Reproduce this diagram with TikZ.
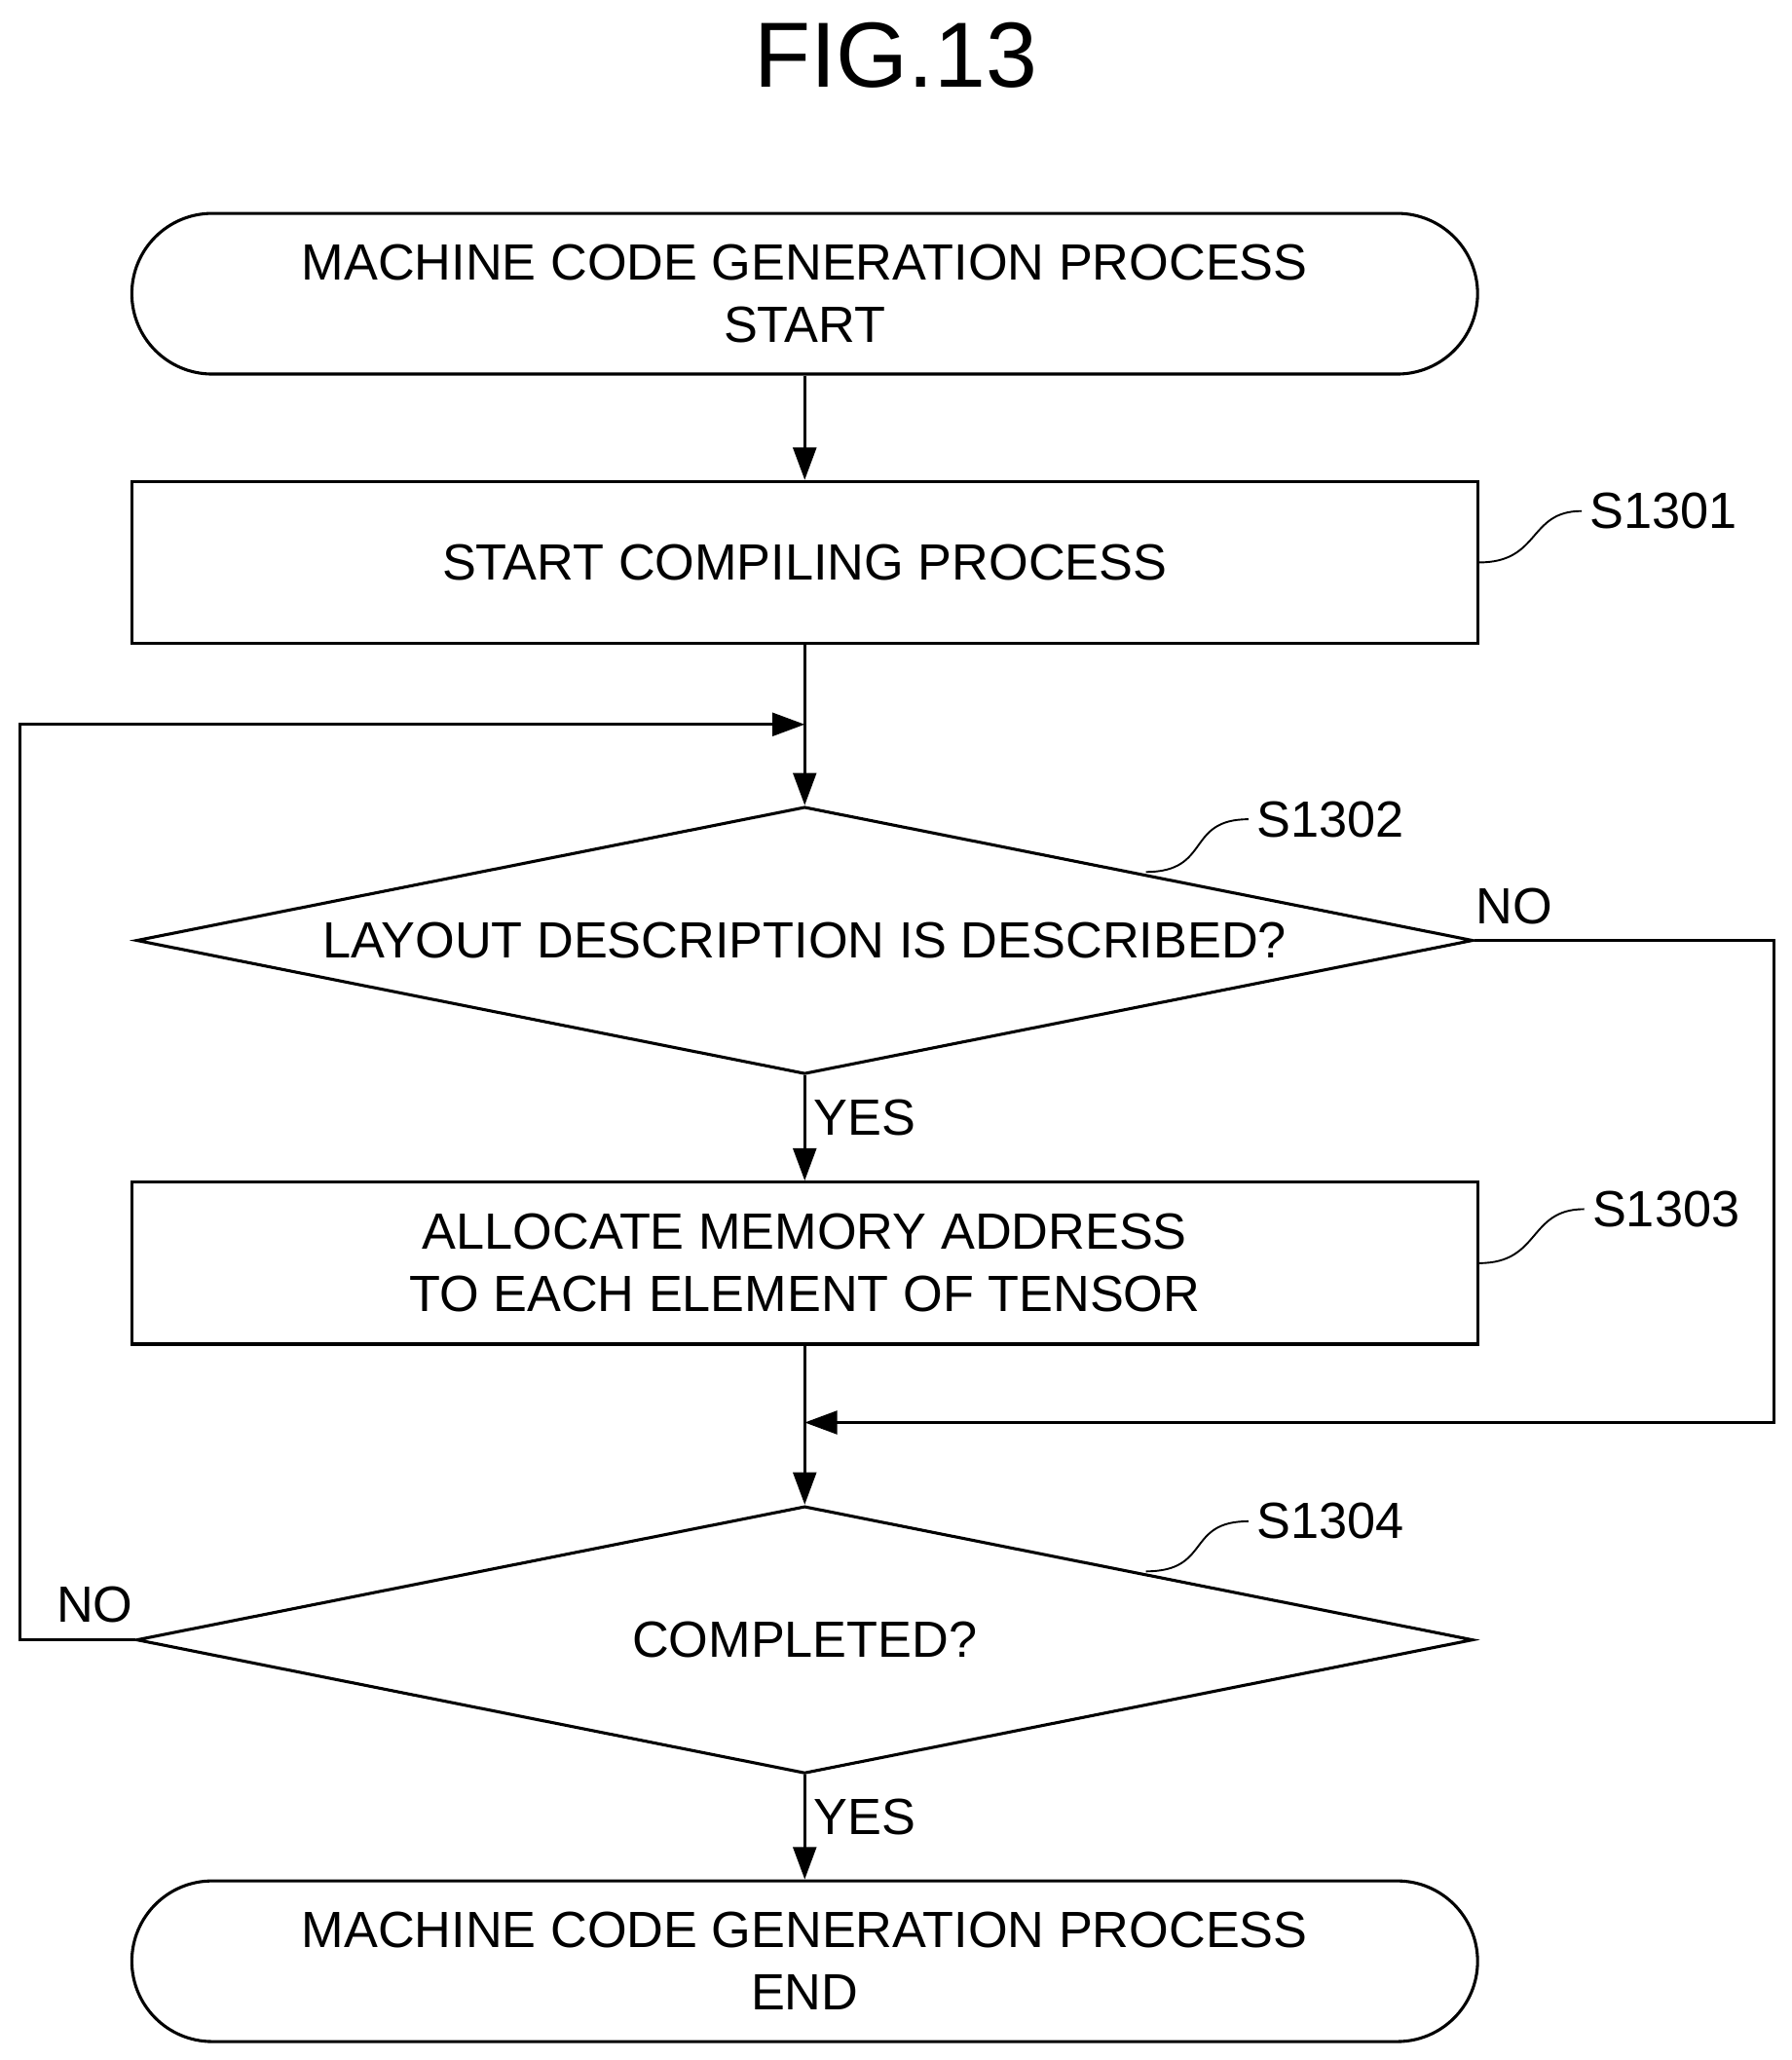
\documentclass[tikz,border=0pt]{standalone}
\usepackage{fontspec}
\setmainfont{Liberation Sans}
\usetikzlibrary{shapes.geometric, arrows.meta}

\tikzset{
  base/.style={draw, line width=1.3pt, font=\fontsize{22}{27}\selectfont, align=center},
  term/.style={base, rectangle, rounded corners=1.22cm, minimum width=20.44cm, minimum height=2.44cm},
  proc/.style={base, rectangle, minimum width=20.44cm, minimum height=2.46cm},
  ask/.style={base, diamond, minimum width=20.3cm, minimum height=4.06cm, inner sep=0pt},
  lbl/.style={font=\fontsize{22}{27}\selectfont},
  flow/.style={line width=1.3pt, -{Triangle[length=14pt, width=10pt]}}
}

\begin{document}
\begin{tikzpicture}[x=0.02cm, y=-0.02cm]
                \useasboundingbox (0,0) rectangle (1360,1564);
                % Title
                \node[font=\fontsize{40}{48}\selectfont] (title) at (680,42) {FIG.13};

                % Boxes
                \node[term] (start) at (611,223) {MACHINE CODE GENERATION PROCESS\\START};
                \node[proc] (s1301) at (611,427) {START COMPILING PROCESS};
                \node[ask] (s1302) at (611,714) {\makebox[0pt]{LAYOUT DESCRIPTION IS DESCRIBED?}};
                \node[proc] (s1303) at (611,959) {ALLOCATE MEMORY ADDRESS\\TO EACH ELEMENT OF TENSOR};
                \node[ask] (s1304) at (611,1245) {\makebox[0pt]{COMPLETED?}};
                \node[term] (stop) at (611,1489) {MACHINE CODE GENERATION PROCESS\\END};

                % Merge points
                \coordinate (loop) at (611,550);
                \coordinate (join) at (611,1080);

                % Step labels
                \node[lbl] (l1301) at (1263,388) {S1301};
                \node[lbl] (l1302) at (1010,622) {S1302};
                \node[lbl] (l1303) at (1265,918) {S1303};
                \node[lbl] (l1304) at (1010,1155) {S1304};
                \draw[thick] (s1301.east) .. controls (1170,427) and (1160,388) .. (l1301.west);
                \draw[thick] (870,662) .. controls (920,662) and (900,622) .. (l1302.west);
                \draw[thick] (s1303.east) .. controls (1170,959) and (1160,918) .. (l1303.west);
                \draw[thick] (870,1193) .. controls (920,1193) and (900,1155) .. (l1304.west);

                % Connectors
                \draw[flow] (start) -- (s1301);
                \draw[line width=1.3pt] (s1301) -- (loop);
                \draw[flow] (loop) -- (s1302);
                \draw[flow] (s1302) -- node[lbl, right, pos=.4] (yes1) {YES} (s1303);
                \draw[line width=1.3pt] (s1303) -- (join);
                \draw[flow] (join) -- (s1304);
                \draw[flow] (s1304) -- node[lbl, right, pos=.4] (yes2) {YES} (stop);
                \draw[flow] (s1302.east) -- (1347,714) |- (join);
                \draw[flow] (s1304.west) -- (15,1245) |- (loop);
                \node[lbl] (no1) at (1150,688) {NO};
                \node[lbl] (no2) at (72,1218) {NO};
\end{tikzpicture}
\end{document}
